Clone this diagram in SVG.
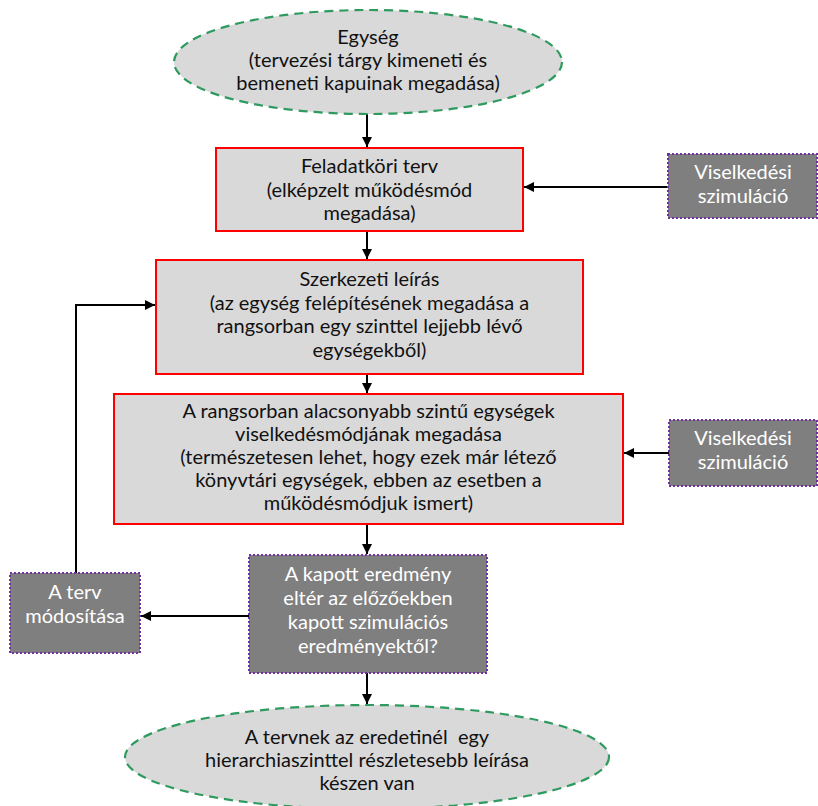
<svg xmlns="http://www.w3.org/2000/svg" width="818" height="806" viewBox="0 0 818 806">
<defs>
<marker id="ah" viewBox="0 0 10 10" refX="10" refY="5" markerWidth="5" markerHeight="5" markerUnits="strokeWidth" orient="auto">
<path d="M0,0 L10,5 L0,10 z" fill="#000"/>
</marker>
<style>
text{font-family:Lato,"Open Sans","Liberation Sans",sans-serif;font-size:20px;text-anchor:middle;fill:#111}
.ell{fill:#d9d9d9;stroke:#2e9a5e;stroke-width:2.2;stroke-dasharray:9,6}
.box{fill:#d9d9d9;stroke:#ff0000;stroke-width:2}
.dark{fill:#7f7f7f;stroke:#7030a0;stroke-width:2;stroke-dasharray:2,2}
text.w{fill:#fff}
.con{fill:none;stroke:#000;stroke-width:2;marker-end:url(#ah)}
</style>
</defs>
<rect width="818" height="806" fill="#fff"/>
<g id="connectors">
<line class="con" x1="367" y1="114" x2="367" y2="147"/>
<line class="con" x1="367" y1="231" x2="367" y2="259"/>
<line class="con" x1="367" y1="374" x2="367" y2="393"/>
<line class="con" x1="367" y1="524" x2="367" y2="554"/>
<line class="con" x1="367" y1="673" x2="367" y2="704"/>
<line class="con" x1="668" y1="187" x2="524" y2="187"/>
<line class="con" x1="669" y1="453" x2="624" y2="453"/>
<line class="con" x1="249" y1="616" x2="141" y2="616"/>
<polyline class="con" points="76,573 76,305 155,305"/>
</g>
<g id="n-egyseg">
<ellipse class="ell" cx="368" cy="62" rx="194" ry="52"/>
<text x="368" y="44">Egység</text>
<text x="368" y="67">(tervezési tárgy kimeneti és</text>
<text x="368" y="90">bemeneti kapuinak megadása)</text>
</g>
<g id="n-feladat">
<rect class="box" x="216" y="148" width="307" height="83"/>
<text x="369.5" y="173">Feladatköri terv</text>
<text x="369.5" y="197">(elképzelt működésmód</text>
<text x="369.5" y="220">megadása)</text>
</g>
<g id="n-vis1">
<rect class="dark" x="668" y="154" width="149" height="64"/>
<text class="w" x="743" y="179">Viselkedési</text>
<text class="w" x="743" y="203">szimuláció</text>
</g>
<g id="n-szerkezeti">
<rect class="box" x="156" y="260" width="427" height="114"/>
<text x="369.5" y="286">Szerkezeti leírás</text>
<text x="369.5" y="310">(az egység felépítésének megadása a</text>
<text x="369.5" y="333">rangsorban egy szinttel lejjebb lévő</text>
<text x="369.5" y="357">egységekből)</text>
</g>
<g id="n-alacsony">
<rect class="box" x="114" y="394" width="509" height="130"/>
<text x="368.5" y="418">A rangsorban alacsonyabb szintű egységek</text>
<text x="368.5" y="441">viselkedésmódjának megadása</text>
<text x="368.5" y="464">(természetesen lehet, hogy ezek már létező</text>
<text x="368.5" y="487">könyvtári egységek, ebben az esetben a</text>
<text x="368.5" y="510">működésmódjuk ismert)</text>
</g>
<g id="n-vis2">
<rect class="dark" x="669" y="420" width="148" height="66"/>
<text class="w" x="743" y="445">Viselkedési</text>
<text class="w" x="743" y="469">szimuláció</text>
</g>
<g id="n-dontes">
<rect class="dark" x="249" y="555" width="238" height="118"/>
<text class="w" x="368" y="581">A kapott eredmény</text>
<text class="w" x="368" y="605">eltér az előzőekben</text>
<text class="w" x="368" y="629">kapott szimulációs</text>
<text class="w" x="368" y="653">eredményektől?</text>
</g>
<g id="n-modositas">
<rect class="dark" x="10" y="573" width="130" height="80"/>
<text class="w" x="75" y="599">A terv</text>
<text class="w" x="75" y="623">módosítása</text>
</g>
<g id="n-kesz">
<ellipse class="ell" cx="367" cy="757" rx="242" ry="52"/>
<text x="367" y="744" style="white-space:pre">A tervnek az eredetinél  egy</text>
<text x="367" y="767">hierarchiaszinttel részletesebb leírása</text>
<text x="367" y="790">készen van</text>
</g>
</svg>
